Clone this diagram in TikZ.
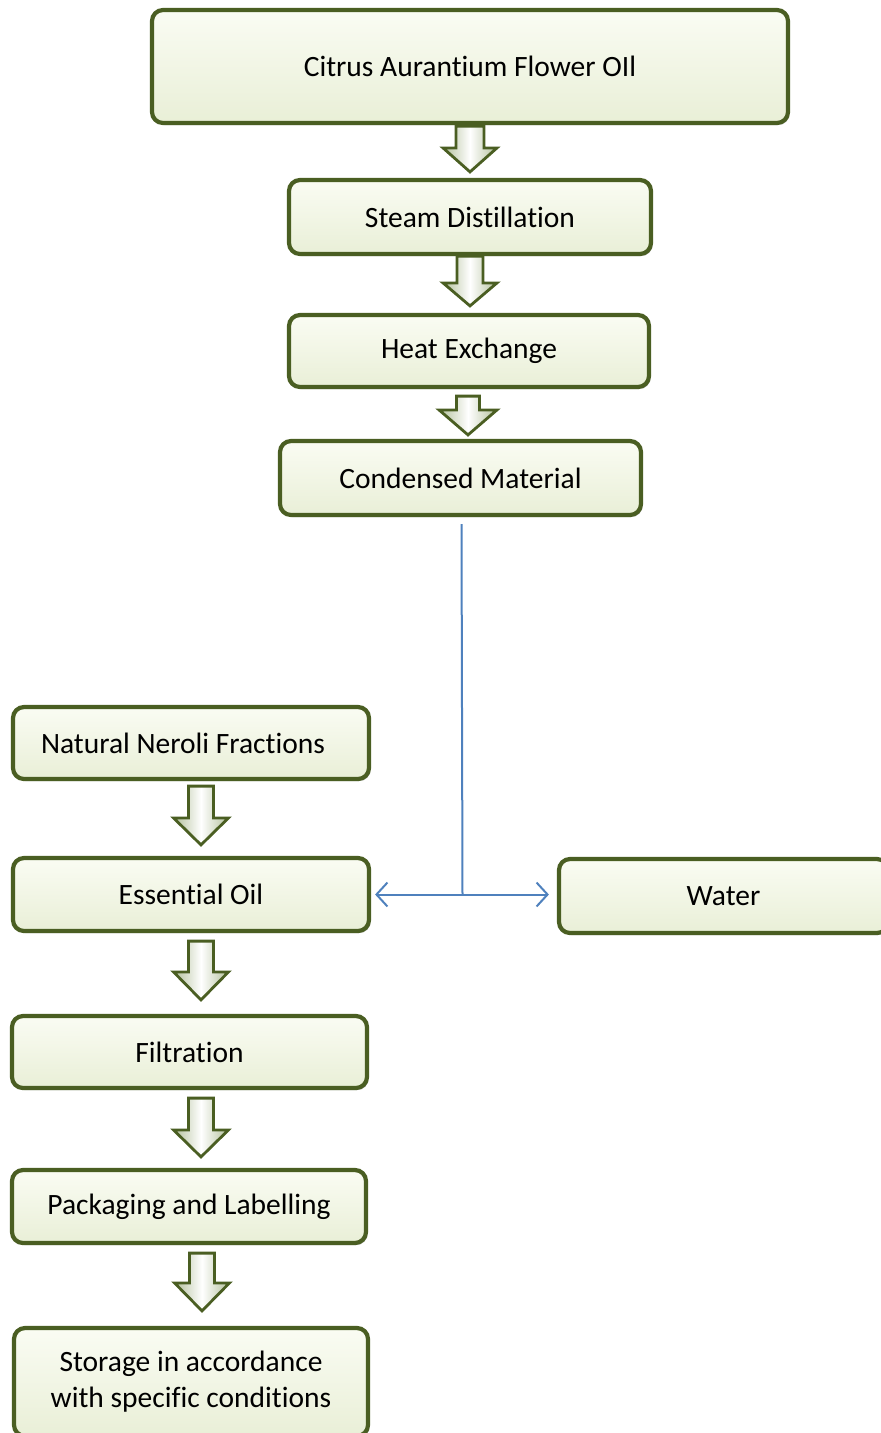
\documentclass[tikz,border=0pt]{standalone}
\usepackage{fontspec}
\setmainfont[Ligatures=NoCommon]{Carlito}
\usetikzlibrary{calc,arrows.meta,shadows}
\definecolor{olive}{HTML}{4A5E22}
\definecolor{boxtop}{HTML}{FAFCF3}
\definecolor{boxbot}{HTML}{E9EFD7}
\definecolor{arrside}{HTML}{B3C09C}
\definecolor{lineblue}{HTML}{4F81BD}
\tikzset{
  box/.style={rectangle, rounded corners=11pt, draw=olive, line width=4.2pt,
    top color=boxtop, bottom color=boxbot, align=center,
    font=\fontsize{29.5}{36}\selectfont,
    drop shadow={shadow xshift=1.5pt, shadow yshift=-2pt, fill=black!50, opacity=0.5}},
  barrowstyle/.style={draw=olive, line width=2.8pt, line join=miter,
    left color=arrside, right color=arrside, middle color=white},
  blueline/.style={draw=lineblue, line width=2pt},
  bluearrow/.style={blueline, -{Straight Barb[length=11pt,width=24pt,line width=2pt]}}
}
% #1 from node, #2 to node, #3 x, #4 top gap, #5 tip gap, #6 head length, #7 shaft half width, #8 head half width
\newcommand{\barrow}[8]{%
  \path let \p1=(#1.south), \p2=(#2.north) in
    [barrowstyle] (#3pt-#7pt,\y1-#4pt) -- (#3pt+#7pt,\y1-#4pt) -- (#3pt+#7pt,\y2+#5pt+#6pt)
    -- (#3pt+#8pt,\y2+#5pt+#6pt) -- (#3pt,\y2+#5pt) -- (#3pt-#8pt,\y2+#5pt+#6pt)
    -- (#3pt-#7pt,\y2+#5pt+#6pt) -- cycle;}
\begin{document}
\begin{tikzpicture}[x=1pt,y=-1pt]
\useasboundingbox (0,0) rectangle (881,1433);
\node[box, minimum width=636pt, minimum height=113pt] (n1) at (470,66.5) {Citrus Aurantium Flower OIl};
\node[box, minimum width=362pt, minimum height=74pt] (n2) at (470,217) {Steam Distillation};
\node[box, minimum width=360pt, minimum height=72pt] (n3) at (469,351) {Heat Exchange};
\node[box, minimum width=361pt, minimum height=74pt] (n4) at (460.5,478) {Condensed Material};
\node[box, minimum width=356pt, minimum height=72pt] (n5) at (191,743) {\hspace*{-16pt}Natural Neroli Fractions};
\node[box, minimum width=356pt, minimum height=73pt] (n6) at (191,894.5) {Essential Oil};
\node[box, minimum width=329pt, minimum height=74pt] (n7) at (723.5,896) {Water};
\node[box, minimum width=355pt, minimum height=72pt] (n8) at (189.5,1052) {Filtration};
\node[box, minimum width=354pt, minimum height=73pt] (n9) at (189,1206.5) {Packaging and Labelling};
\node[box, minimum width=354pt, minimum height=108pt] (n10) at (191,1382) {Storage in accordance\\with specific conditions};
% block arrows
\barrow{n1}{n2}{470}{1}{6}{24}{14}{27}
\barrow{n2}{n3}{470}{0}{7}{23}{13}{27}
\barrow{n3}{n4}{468}{7}{4}{25}{11.5}{29}
\barrow{n5}{n6}{201}{5}{11}{27}{12.5}{27.5}
\barrow{n6}{n8}{201}{8}{14}{28}{12.5}{27.5}
\barrow{n8}{n9}{201}{8}{11}{27}{12.5}{27.5}
\barrow{n9}{n10}{202}{8}{15}{28}{12.5}{27.5}
% blue split connector
\coordinate (split) at ($(n4.south |- n6.east)+(2,0)$);
\draw[blueline] ([yshift=-7pt,xshift=1pt]n4.south) -- (split);
\draw[bluearrow] (split) -- ([xshift=4pt]n6.east |- split);
\draw[bluearrow] (split) -- ([xshift=-8pt]n7.west |- split);
\end{tikzpicture}
\end{document}
